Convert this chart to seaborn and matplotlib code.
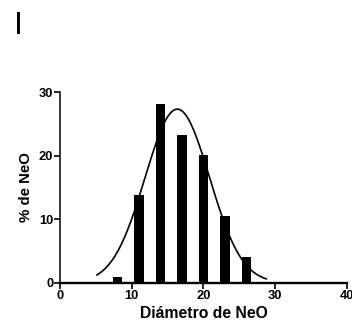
import numpy as np
import pandas as pd
import seaborn as sns
import matplotlib
matplotlib.use("Agg")
import matplotlib.pyplot as plt

# histogram bins (centre of each bin) and % of NeO
bin_centres = [8, 11, 14, 17, 20, 23, 26]
pct_neo = [0.9, 13.8, 28.1, 23.3, 20.2, 10.5, 4.1]

# gaussian fit drawn over the histogram (parameters)
fit_amp = 27.35
fit_mean = 16.35
fit_sd = 4.5
fit_range = [5.1, 28.8]

sns.set_theme(style="ticks")
plt.rcParams['font.family'] = ['Liberation Sans', 'DejaVu Sans']

df = pd.DataFrame({"diam": bin_centres, "pct": pct_neo})

xs = np.linspace(fit_range[0], fit_range[1], 200)
curve = pd.DataFrame({"diam": xs,
                      "pct": fit_amp * np.exp(-(xs - fit_mean) ** 2 / (2 * fit_sd ** 2))})

fig = plt.figure(figsize=(3.52, 3.28), dpi=100)
ax = fig.add_axes([0.171, 0.138, 0.814, 0.5805])

sns.barplot(data=df, x="diam", y="pct", native_scale=True, width=0.45,
            color="black", saturation=1, edgecolor="none", ax=ax)
sns.lineplot(data=curve, x="diam", y="pct", color="black", lw=1.2, ax=ax)

ax.set_xlim(0, 40)
ax.set_ylim(0, 30)
ax.set_xticks([0, 10, 20, 30, 40])
ax.set_yticks([0, 10, 20, 30])
ax.set_xlabel("Diámetro de NeO", fontsize=11.3, fontweight="bold", labelpad=3,
              color="black")
ax.set_ylabel("% de NeO", fontsize=10.8, fontweight="bold", labelpad=4,
              color="black")
for lab in ax.get_xticklabels() + ax.get_yticklabels():
    lab.set_fontweight("bold")
ax.tick_params(axis="both", labelsize=9.3, length=4, width=1.2, pad=1, colors="black")

sns.despine(ax=ax)
ax.spines["left"].set_linewidth(1.1)
ax.spines["bottom"].set_linewidth(1.7)
ax.spines["left"].set_color("black")
ax.spines["bottom"].set_color("black")
ax.spines["left"].set_zorder(5)
ax.spines["bottom"].set_zorder(5)

fig.text(0.052, 0.92, "I", fontsize=23, ha="center", va="center", color="black")

fig.savefig("out.png", dpi=100)
